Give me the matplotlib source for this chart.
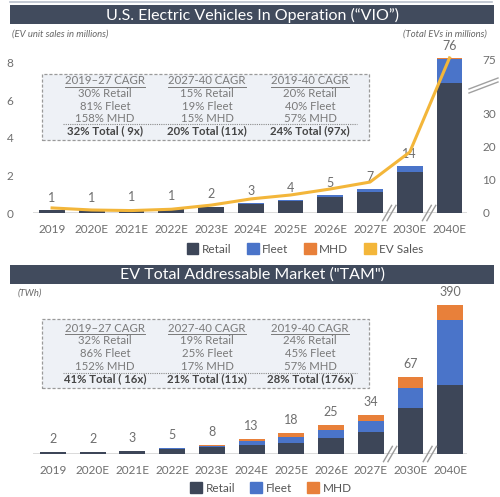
import matplotlib
matplotlib.use("Agg")
import matplotlib.pyplot as plt
import numpy as np
from matplotlib import transforms
from matplotlib.lines import Line2D
from matplotlib.patches import Patch, Rectangle

plt.rcParams["font.family"] = ["Lato", "DejaVu Sans"]

years = ["2019", "2020E", "2021E", "2022E", "2023E", "2024E", "2025E", "2026E", "2027E", "2030E", "2040E"]

# VIO (total EVs in millions, right axis) + EV unit sales (millions, left axis)
vio_retail = [0.9, 0.9, 0.95, 1.2, 1.8, 2.8, 3.6, 4.8, 6.3, 12.3, 48.0]
vio_fleet = [0.05, 0.05, 0.05, 0.1, 0.15, 0.2, 0.3, 0.5, 0.9, 1.7, 27.0]
vio_mhd = [0.0, 0.0, 0.0, 0.0, 0.0, 0.0, 0.01, 0.02, 0.05, 0.1, 1.0]
vio_labels = [1, 1, 1, 1, 2, 3, 4, 5, 7, 14, 76]
ev_sales = [0.27, 0.16, 0.13, 0.2, 0.42, 0.75, 0.96, 1.28, 1.65, 3.25, 8.27]

# TAM (TWh)
tam_retail = [1.9, 1.9, 2.8, 4.6, 6.0, 8.0, 10.0, 14.0, 19.0, 40.0, 60.0]
tam_fleet = [0.05, 0.1, 0.15, 0.3, 1.3, 3.0, 5.0, 7.0, 10.0, 17.0, 260.0]
tam_mhd = [0.0, 0.0, 0.05, 0.1, 0.7, 2.0, 3.0, 4.0, 5.0, 10.0, 70.0]
tam_labels = [2, 2, 3, 5, 8, 13, 18, 25, 34, 67, 390]

vio_cagr = [
    ["2019\u201327 CAGR", "30% Retail", "81% Fleet", "158% MHD", "32% Total ( 9x)"],
    ["2027-40 CAGR", "15% Retail", "19% Fleet", "15% MHD", "20% Total (11x)"],
    ["2019-40 CAGR", "20% Retail", "40% Fleet", "57% MHD", "24% Total (97x)"],
]
tam_cagr = [
    ["2019\u201327 CAGR", "32% Retail", "86% Fleet", "152% MHD", "41% Total ( 16x)"],
    ["2027-40 CAGR", "19% Retail", "25% Fleet", "17% MHD", "21% Total (11x)"],
    ["2019-40 CAGR", "24% Retail", "45% Fleet", "57% MHD", "28% Total (176x)"],
]

RETAIL = "#3d4658"
FLEET = "#4a74c9"
MHD = "#e8803a"
YELLOW = "#f3b63a"
BAR_DARK = "#414b5d"
TXT = "#6e6e6e"
GRID = "#d4d4d4"

W, H = 500, 497
fig = plt.figure(figsize=(W / 100, H / 100), dpi=100)


def fx(px):
    return px / W


def fy(py):
    return 1 - py / H


def px_line(x0, y0, x1, y1, **kw):
    fig.add_artist(Line2D([fx(x0), fx(x1)], [fy(y0), fy(y1)], transform=fig.transFigure, **kw))


def header(y0, y1, text):
    fig.add_artist(Rectangle((fx(10), fy(y1)), fx(494) - fx(10), (y1 - y0) / H,
                             transform=fig.transFigure, facecolor=BAR_DARK, edgecolor="none"))
    fig.text(fx(252), fy((y0 + y1) / 2 + 0.5), text, color="white", fontsize=11.5,
             ha="center", va="center")


def cagr_box(top, bottom, row_ys, sep_y, cols):
    left, right = 42, 369
    fig.add_artist(Rectangle((fx(left), fy(bottom)), fx(right) - fx(left), (bottom - top) / H,
                             transform=fig.transFigure, facecolor="#eef1f6", edgecolor="#9a9a9a",
                             linewidth=0.9, linestyle=(0, (2.5, 1.5)), zorder=5))
    px_line(63, sep_y, 357, sep_y, color="#8a8a8a", linewidth=0.8, linestyle=(0, (1, 1)), zorder=6)
    for cx, col in zip([105, 207, 310], cols):
        for j, (txt, ry) in enumerate(zip(col, row_ys)):
            fig.text(fx(cx), fy(ry), txt, ha="center", va="center", zorder=7,
                     fontsize=8.2,
                     color="#454545" if j == 4 else "#7a7a7a",
                     fontweight="bold" if j == 4 else "normal")


def break_mark(ax, xd):
    # little "//" across the baseline between two categories
    off = transforms.Affine2D().scale(fig.dpi / 72.0) + transforms.ScaledTranslation(xd, 0, ax.get_xaxis_transform())
    for dx in (-2.0, 1.2):
        fig.add_artist(Line2D([dx - 3.2, dx + 3.2], [-5.5, 5.5], transform=off,
                              color="#9a9a9a", linewidth=1.0, zorder=10))


def style_axes(ax):
    for s in ax.spines.values():
        s.set_visible(False)
    ax.tick_params(length=0, colors=TXT, labelsize=8.5)


def top_fwd(r):
    r = np.asarray(r, dtype=float)
    return np.where(r <= 36, r, 36 + (r - 36) * 0.262)


def top_inv(u):
    u = np.asarray(u, dtype=float)
    return np.where(u <= 36, u, 36 + (u - 36) / 0.262)


def tam_fwd(r):
    r = np.asarray(r, dtype=float)
    return np.where(r <= 70, r, 70 + (r - 70) * 0.186)


def tam_inv(u):
    u = np.asarray(u, dtype=float)
    return np.where(u <= 70, u, 70 + (u - 70) / 0.186)


x = np.arange(len(years))
bw = 0.65

# thin rule at the very top
px_line(10, 1.5, 492, 1.5, color="#b9c0cc", linewidth=1.2)

# ---------------- VIO chart ----------------
header(5, 24, "U.S. Electric Vehicles In Operation (\u201cVIO\u201d)")
fig.text(fx(12), fy(34), "(EV unit sales in millions)", fontsize=6.8, style="italic", color="#666666",
         ha="left", va="center")
fig.text(fx(487), fy(34), "(Total EVs in millions)", fontsize=6.8, style="italic", color="#666666",
         ha="right", va="center")

ax1 = fig.add_axes([fx(33), fy(213), (467 - 33) / W, (213 - 53.6) / H])
axb = ax1.twinx()
axb.set_yscale("function", functions=(top_fwd, top_inv))
axb.set_ylim(0, float(top_inv(47.9)))
ax1.set_ylim(0, 8.5)
ax1.set_xlim(-0.48, 10.44)

r = np.array(vio_retail)
f = np.array(vio_fleet)
m = np.array(vio_mhd)
axb.bar(x, r, bw, color=RETAIL, zorder=2)
axb.bar(x, f, bw, bottom=r, color=FLEET, zorder=2)
axb.bar(x, m, bw, bottom=r + f, color=MHD, zorder=2)
axb.axhline(0, color=GRID, linewidth=1.2, zorder=1)
for xi, tot, lab in zip(x, r + f + m, vio_labels):
    axb.annotate(str(lab), (xi, tot), xytext=(0, 4.5), textcoords="offset points",
                 ha="center", va="bottom", fontsize=9, color=TXT, annotation_clip=False)

ax1.plot(x, ev_sales, color=YELLOW, linewidth=2.2, clip_on=False, zorder=3)
ax1.set_zorder(axb.get_zorder() + 1)
ax1.patch.set_visible(False)

ax1.set_yticks([0, 2, 4, 6, 8])
axb.set_yticks([0, 10, 20, 30, 75])
axb.set_yticklabels(["0", "10", "20", "30", "75"])
ax1.set_xticks(x, years)
style_axes(ax1)
style_axes(axb)
ax1.tick_params(axis="y", pad=14)
axb.tick_params(axis="y", pad=11)
ax1.tick_params(axis="x", pad=8)

break_mark(ax1, 8.5)
break_mark(ax1, 9.5)
px_line(469, 89, 498, 78, color="#a0a0a0", linewidth=1.0)
px_line(469, 93, 498, 82, color="#a0a0a0", linewidth=1.0)

cagr_box(74, 140, [80.5, 93.5, 106.5, 119, 130.5], 124.5, vio_cagr)

fig.legend(handles=[Patch(color=RETAIL), Patch(color=FLEET), Patch(color=MHD), Patch(color=YELLOW)],
           labels=["Retail", "Fleet", "MHD", "EV Sales"], loc="center", bbox_to_anchor=(fx(305), fy(249)),
           ncol=4, frameon=False, handlelength=1.0, handleheight=1.0, handletextpad=0.3,
           columnspacing=1.3, fontsize=8.5, labelcolor="#555555")

# ---------------- TAM chart ----------------
header(265, 284, "EV Total Addressable Market (\"TAM\")")
fig.text(fx(18), fy(293), "(TWh)", fontsize=6.8, style="italic", color="#666666", ha="left", va="center")

ax2 = fig.add_axes([fx(33), fy(454), (467 - 33) / W, (454 - 300) / H])
ax2.set_yscale("function", functions=(tam_fwd, tam_inv))
ax2.set_ylim(0, float(tam_inv(134)))
ax2.set_xlim(-0.5, 10.42)
r2 = np.array(tam_retail)
f2 = np.array(tam_fleet)
m2 = np.array(tam_mhd)
ax2.bar(x, r2, bw, color=RETAIL, zorder=2)
ax2.bar(x, f2, bw, bottom=r2, color=FLEET, zorder=2)
ax2.bar(x, m2, bw, bottom=r2 + f2, color=MHD, zorder=2)
ax2.axhline(0, color=GRID, linewidth=1.2, zorder=1)
for xi, tot, lab in zip(x, r2 + f2 + m2, tam_labels):
    ax2.annotate(str(lab), (xi, tot), xytext=(0, 5), textcoords="offset points",
                 ha="center", va="bottom", fontsize=9, color=TXT, annotation_clip=False)
ax2.set_yticks([])
ax2.set_xticks(x, years)
style_axes(ax2)
ax2.tick_params(axis="x", pad=8)
break_mark(ax2, 8.5)
break_mark(ax2, 9.5)

cagr_box(319, 388, [328, 341, 353.5, 366, 378.5], 372.5, tam_cagr)

fig.legend(handles=[Patch(color=RETAIL), Patch(color=FLEET), Patch(color=MHD)],
           labels=["Retail", "Fleet", "MHD"], loc="center", bbox_to_anchor=(fx(271), fy(488)),
           ncol=3, frameon=False, handlelength=1.0, handleheight=1.0, handletextpad=0.3,
           columnspacing=1.3, fontsize=8.5, labelcolor="#555555")

# underline the CAGR headers
fig.canvas.draw()
renderer = fig.canvas.get_renderer()
for t in fig.texts:
    if "CAGR" in t.get_text():
        bb = t.get_window_extent(renderer)
        yb = bb.y0 - 0.5
        fig.add_artist(Line2D([bb.x0 / W, bb.x1 / W], [yb / H] * 2, transform=fig.transFigure,
                              color="#7a7a7a", linewidth=0.7, zorder=8))

fig.savefig("out.png", dpi=100)
